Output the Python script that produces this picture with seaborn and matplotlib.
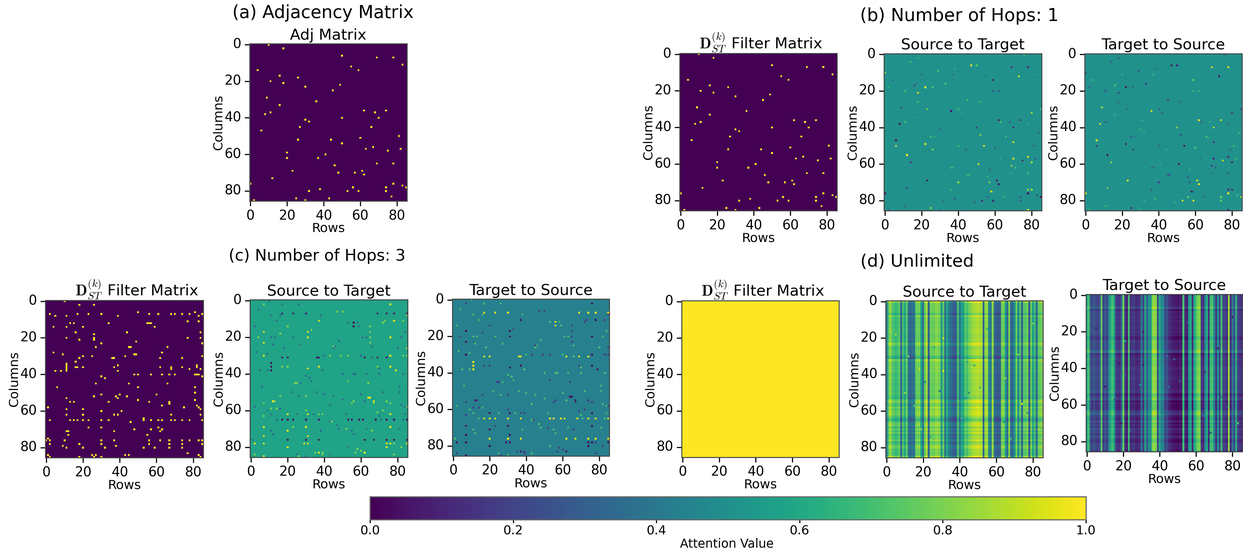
import numpy as np
import pandas as pd
import matplotlib
matplotlib.use("Agg")
import matplotlib.pyplot as plt
import seaborn as sns
from PIL import Image

plt.rcParams['mathtext.fontset'] = 'cm'

n_nodes = 86
tick_labels = [0, 20, 40, 60, 80]
cbar_ticks = [0.0, 0.2, 0.4, 0.6, 0.8, 1.0]

# (a) and (b) : points (row, column)
adj_points = [(10,0),(18,2),(50,6),(69,7),(78,7),(83,11),(55,12),(59,14),(4,14),(16,17),(26,18),(11,20),(18,21),
              (30,23),(49,22),(45,25),(9,29),(36,31),(16,33),(62,36),(68,37),(74,36),(11,37),(8,38),(50,40),(70,40),
              (30,41),(32,42),(27,45),(66,45),(6,47),(81,50),(60,51),(26,52),(44,52),(50,54),(67,56),(63,57),(82,57),
              (75,58),(20,59),(41,60),(20,62),(37,62),(69,65),(78,65),(46,66),(23,69),(61,69),(48,70),(57,70),(62,71),
              (12,73),(0,76),(78,76),(83,77),(56,78),(74,78),(85,78),(38,79),(32,80),(53,80),(59,80),(74,80),(77,83),
              (25,84),(43,84),(2,85),(30,85)]

# (b) : (row, column, value) on a flat background
hop1_base = 0.5
hop1_s2t = [(47,6,1),(50,6,.75),(76,0,.7),(14,4,.65),(18,2,.62),(29,9,.75),(0,10,.8),(38,8,.62),(73,12,.9),(69,7,.1),
            (78,7,.1),(37,11,.35),(20,11,.35),(83,11,.62),(4,14,.4),(55,12,.4),(59,14,.1),(33,16,.75),(16,17,.25),
            (17,16,.35),(2,18,.65),(11,20,.7),(22,18,1),(26,18,.7),(18,21,.95),(59,20,.3),(62,20,.3),(69,23,.6),
            (18,26,.65),(45,25,.7),(52,26,.65),(9,29,.2),(23,30,.8),(40,30,.7),(36,31,.05),(85,30,.7),(80,32,.85),
            (16,33,.4),(42,32,.6),(62,36,.1),(63,37,.7),(74,36,.2),(68,37,.35),(31,36,.35),(11,37,.7),(8,38,.03),
            (78,38,.6),(30,41,.35),(50,40,.2),(70,40,.15),(84,43,.35),(32,42,.4),(52,44,.8),(25,45,.7),(27,45,.65),
            (66,45,.65),(67,46,.4),(6,47,.05),(70,48,.9),(22,49,.95),(6,50,.85),(40,50,.7),(54,50,.95),(81,50,.3),
            (26,52,.8),(44,52,.3),(60,51,.35),(79,52,.6),(12,55,1),(78,56,.95),(70,57,.9),(82,57,.3),(75,58,.1),
            (63,57,.6),(14,59,.2),(80,59,.85),(51,60,.95),(41,60,.4),(69,61,.85),(71,62,.7),(36,62,.65),(37,62,.65),
            (57,63,.3),(78,65,.7),(69,65,.6),(45,66,.65),(46,66,.65),(56,67,.65),(23,69,.05),(61,69,.03),(40,70,.85),
            (57,70,.8),(62,71,.03),(12,73,.2),(36,74,.65),(78,74,.8),(80,74,.85),(58,75,.98),(78,76,.03),(83,77,.2),
            (0,76,.05),(74,78,.3),(85,78,.05),(56,78,.3),(65,78,.65),(38,79,.3),(32,80,.35),(53,80,.1),(59,80,.05),
            (74,80,.3),(49,81,.3),(11,83,.3),(43,84,.4),(25,84,.85),(78,85,.95),(2,85,.3),(30,85,.35),(77,83,.4)]
hop1_t2s = [(14,4,.3),(18,2,.3),(76,0,.3),(47,6,.03),(50,6,.1),(69,7,.95),(78,7,.95),(29,9,.25),(0,10,.25),(38,8,.35),
            (73,12,.05),(20,11,.65),(37,11,.65),(4,14,.65),(59,14,.8),(33,16,.2),(16,17,.75),(17,16,.6),(2,18,.35),
            (11,20,.25),(22,18,.03),(26,18,.3),(18,21,.15),(59,20,.65),(62,20,.65),(69,23,.4),(45,25,.2),(52,26,.35),
            (18,26,.35),(9,29,.85),(23,30,.3),(40,30,.3),(36,31,.92),(85,30,.2),(80,32,.2),(42,32,.3),(16,33,.65),
            (31,36,.65),(62,36,.98),(74,36,.9),(68,37,.65),(63,37,.35),(11,37,.3),(8,38,.95),(78,38,.35),(30,41,.65),
            (50,40,.8),(70,40,.85),(32,42,.65),(84,43,.65),(52,44,.2),(25,45,.3),(27,45,.4),(66,45,.7),(67,46,.6),
            (6,47,.95),(70,48,.15),(22,49,.1),(6,50,.15),(40,50,.3),(54,50,.05),(81,50,.7),(26,52,.2),(44,52,.65),
            (60,51,.7),(79,52,.3),(12,55,.02),(78,56,.1),(70,57,.15),(82,57,.65),(75,58,.92),(63,57,.4),(14,59,.8),
            (80,59,.15),(51,60,.05),(41,60,.6),(69,61,.15),(71,62,.3),(36,62,.35),(37,62,.35),(57,63,.65),(78,65,.3),
            (69,65,.4),(45,66,.3),(46,66,.3),(56,67,.3),(23,69,.95),(61,69,.98),(40,70,.15),(57,70,.2),(62,71,.98),
            (12,73,.8),(36,74,.3),(78,74,.15),(80,74,.15),(58,75,.02),(78,76,.98),(83,77,.7),(0,76,.95),(74,78,.8),
            (85,78,.85),(56,78,.75),(65,78,.35),(38,79,.7),(32,80,.65),(53,80,.9),(59,80,.95),(74,80,.75),(49,81,.65),
            (11,83,.65),(43,84,.6),(25,84,.15),(78,85,.1),(2,85,.65),(30,85,.65),(77,83,.6)]

# (c) filter : column -> rows
hop3_filter = {0:[10],2:[18,26],6:[50,81],7:[2,17,23,30,56,61,68,70,74,78,85],8:[5,11,39,83],11:[77,83],
               12:[13,15,34,55,56,57],14:[4,11,20,59],17:[16,44,84],18:[26],20:[11,26,77,84],21:[18,26],22:[49],
               23:[30,85],25:[27,45,46,66],28:[4,63],29:[9,48,49],30:[20,25,43,85],31:[18,36,37,62,74],33:[16],
               34:[11],35:[11,39,82],36:[11,16,17,20,37,62,68,74,82],37:[11,68,78,84],38:[5,8,11,39],
               40:[48,50,57,63,67,70,81,82,83],41:[30,85],42:[32],45:[27,45,66],47:[6,50,81],50:[81],51:[30,40,60],
               52:[26,38,44],53:[11,39],54:[50,81],55:[13,15,34,56,67],56:[67],57:[82,63],58:[1,75,83],59:[11,20,84],
               60:[30,41],62:[11,20,37,39,68,84],64:[53],65:[2,13,15,17,20,23,30,34,53,57,61,63,68,70,74,78,85],
               66:[46],69:[23,30,61],70:[48,57,63],71:[11,12,37,62],73:[12,55],75:[1],
               76:[0,2,10,30,37,56,62,67,74,78,83,85],78:[2,18,30,56,67,74,85],79:[9,38],80:[11,20,32,53,59,67,74],
               83:[77],84:[1,25,27,43,45,83],85:[2,18,26,30,84]}

# (c) attention, several levels on a flat background
s2t_base = 0.58
t2s_base = 0.43
strong_a = [(7,17),(7,23),(7,30),(31,17),(31,20),(31,37),(37,11),(37,36),(76,20),(76,30),(76,36),(78,11),(79,38),
            (74,78),(76,78),(85,78),(2,78),(7,78),(7,69),(7,74),(7,85),(30,69),(31,74),(29,78),(31,78),(20,62),(31,62),
            (37,83),(62,83),(76,62),(76,2),(64,53),(65,53),(67,55),(12,55),(20,80),(20,71),(76,69),(74,80)]
strong_b = [(17,7),(23,7),(30,7),(69,7),(74,7),(78,7),(85,7),(17,31),(20,31),(36,31),(37,31),(62,31),(69,31),(74,31),
            (17,65),(20,65),(23,65),(30,65),(37,65),(53,65),(55,65),(59,65),(61,65),(68,65),(74,65),(78,65),(85,65),
            (20,76),(30,76),(37,76),(62,76),(67,76),(74,76),(78,76),(85,76),(56,12),(56,14),(11,34),(11,36),(11,38)]
mild_a = [(7,2),(20,14),(20,36),(17,36),(37,62),(39,62),(7,56),(7,63),(13,55),(14,59),(11,59),(24,45),(25,45),(65,17),
          (65,20),(65,23),(65,14),(33,16),(35,83),(39,83),(56,55),(55,56),(67,56),(74,55),(76,56),(83,11),(85,8),
          (82,80),(78,84),(78,78),(58,81),(60,82),(47,6),(50,6),(30,60),(30,52),(39,84),(23,69),(2,84),(85,26),(85,58),
          (85,30),(26,85),(73,11),(72,12),(49,30),(43,30),(53,30),(64,45),(53,44),(45,25),(16,18),(4,20),(44,66),
          (52,70),(66,71),(57,83),(69,61),(72,60),(16,52),(69,36),(83,30)]
weak = [(2,14),(11,20),(14,11),(11,8),(16,8),(5,38),(9,38),(46,25),(45,26),(26,52),(39,38),(62,55),(40,30),(30,41),
        (23,20),(61,20),(63,20),(57,40),(63,40),(50,40),(81,50),(84,58),(84,62),(82,57),(70,37),(66,31),(53,12),
        (48,22),(40,51),(45,52),(60,51),(43,66),(55,71),(1,76),(84,17),(34,62),(71,65),(9,60),(16,59),(13,20),(38,8),
        (4,5),(17,2),(26,2),(10,0),(11,59),(11,62),(11,71),(12,73),(18,26),(27,24),(33,44),(36,50),(43,57),(50,54),
        (56,40),(60,30),(66,25),(70,40),(72,50),(81,47),(83,40),(80,26),(82,20),(58,12),(59,14),(52,62),(47,68),
        (38,71),(25,62),(14,65),(2,58),(3,28),(6,47),(9,29),(12,24),(22,50),(27,45),(32,42),(48,70),(56,73),(63,70),
        (70,63),(81,70),(83,65),(53,80),(43,84),(30,85),(25,84)]

# (d) unlimited : level of each image column, shift of each image row, and a few odd cells
unl_s2t_x = [.4,.7,.82,.72,.68,.65,.68,.72,.28,.68,.55,.72,.38,.3,.38,.33,.72,.76,.76,.55,.33,.76,.85,.3,.76,.76,.75,
             .8,.8,.76,.5,.72,.33,.58,.4,.36,.3,.27,.3,.68,.35,.55,.55,.72,.68,.76,.8,.83,.84,.86,.87,.85,.84,.28,.8,
             .84,.45,.36,.8,.33,.27,.27,.27,.76,.76,.55,.33,.8,.33,.3,.5,.76,.45,.72,.3,.72,.72,.76,.27,.76,.55,.68,
             .33,.72,.76,.76]
unl_t2s_x = [.6,.7,.3,.2,.3,.2,.2,.25,.75,.2,.3,.2,.45,.6,.7,.6,.2,.15,.15,.3,.75,.15,.1,.7,.15,.15,.18,.12,.12,.15,
             .4,.2,.6,.3,.5,.5,.8,.85,.8,.2,.6,.45,.45,.2,.25,.15,.12,.08,.08,.06,.05,.08,.08,.7,.12,.08,.5,.6,.12,.6,
             .7,.8,.8,.15,.15,.45,.6,.12,.7,.7,.45,.15,.5,.2,.7,.2,.2,.15,.85,.15,.4,.25,.65,.2,.15,.15]
unl_s2t_y = [.14,.02,.02,.02,.02,.02,.0,-.06,.08,.0,.02,.0,.0,.02,.0,.02,.02,.02,.0,.0,.0,.02,.0,.1,.06,-.02,.0,.02,
             .02,.02,-.05,-.1,.1,.04,.02,.02,.04,.02,.04,.02,.0,.02,.02,.0,.02,.0,.0,.02,.0,.0,.02,.0,-.02,-.04,.08,
             .1,.02,.0,.1,.04,.07,.08,.08,.02,-.05,-.08,.03,.07,.07,-.03,.07,.0,.07,-.03,.02,.0,.07,-.03,.0,.08,.08,
             .02,.02,.0,.02,.14]
unl_t2s_y = [-.03,.0,.0,.0,.0,.0,.02,.08,-.06,.0,.0,.0,.02,.0,.02,.0,.0,.0,.02,.0,.02,.0,.0,-.06,-.05,.02,.0,.0,.0,
             .0,.05,.1,-.08,-.04,-.02,.0,-.03,-.02,-.03,.0,.02,.0,.0,.0,.0,.02,.02,.0,.0,.0,.0,.0,.02,.04,-.06,-.06,
             .0,.02,-.08,-.04,-.06,-.06,-.06,.0,.05,.08,-.02,-.05,-.05,.03,-.05,.0,-.05,.03,.0,.0,-.05,.03,.0,-.06,
             -.06,.0,.0,.0,.0,-.06]
unl_odd_s2t = [(29,49,.4),(45,50,.45),(43,53,.5),(31,20,.95),(31,38,.95),(74,56,.95),(12,30,.8),(18,37,.9),(21,44,.5),
               (26,25,.55),(44,33,.55),(48,35,.6),(55,15,.65),(65,42,.85),(72,29,.8),(77,61,.55),(83,70,.9),(80,12,.8),
               (15,57,.7),(5,18,.9),(19,70,.8),(41,64,.7),(51,47,.6),(64,66,.55),(24,74,.6),(68,75,.7),(10,50,.85)]
unl_odd_t2s = [(29,49,.45),(45,50,.4),(43,53,.35),(31,20,.05),(31,38,.05),(74,56,.5),(21,25,.6),(18,37,.05),(21,44,.3),
               (26,25,.3),(44,33,.35),(48,35,.3),(55,15,.2),(65,42,.1),(72,29,.1),(77,61,.25),(83,70,.7),(80,12,.05),
               (15,57,.35),(5,18,.05),(19,70,.05),(41,64,.3),(51,47,.3),(64,66,.35),(24,74,.3),(68,75,.25),(10,50,.05)]


def from_points(points, base=0.0, level=1.0):
    m = np.full((n_nodes, n_nodes), base, dtype=float)
    for p in points:
        if len(p) == 3:
            m[p[1], p[0]] = p[2]
        else:
            m[p[1], p[0]] = level
    return m


def from_levels(base, groups):
    m = np.full((n_nodes, n_nodes), base, dtype=float)
    for pts, lev in groups:
        for x, y in pts:
            m[y, x] = lev
    return m


def from_profiles(x_vals, y_vals, odd):
    m = np.clip(np.add.outer(y_vals, x_vals), 0, 1)
    for x, y, v in odd:
        m[y, x] = v
    return pd.DataFrame(m)


hop3_pts = [(x, y) for y, xs in hop3_filter.items() for x in xs]
filter_title = r'$\mathbf{D}_{ST}^{(k)}$ Filter Matrix'

# matrix, title, title centre (fraction of axes), left, top, right, bottom of the image in pixels
panels = [
    (from_points(adj_points), 'Adj Matrix', 0.5, (249.5, 43.7, 407, 201)),
    (from_points(adj_points), filter_title, 0.515, (679.7, 53.3, 837, 210.7)),
    (from_points(hop1_s2t, hop1_base), 'Source to Target', 0.5, (884, 53.5, 1041.7, 210.7)),
    (from_points(hop1_t2s, hop1_base), 'Target to Source', 0.5, (1084.7, 53.5, 1242, 210.7)),
    (from_points(hop3_pts), filter_title, 0.58, (45.3, 300.3, 203.3, 457.7)),
    (from_levels(s2t_base, [(weak, .35), (mild_a, .8), (strong_b, .05), (strong_a, .97)]),
     'Source to Target', 0.5, (250, 299.7, 407.7, 457.3)),
    (from_levels(t2s_base, [(weak, .7), (mild_a, .18), (strong_a, .03), (strong_b, .97)]),
     'Target to Source', 0.5, (452.3, 299, 609.3, 456)),
    (np.ones((n_nodes, n_nodes)), filter_title, 0.515, (681.7, 300.7, 839, 457.3)),
    (from_profiles(unl_s2t_x, unl_s2t_y, unl_odd_s2t), 'Source to Target', 0.5, (885.7, 300.7, 1043, 457.7)),
    (from_profiles(unl_t2s_x, unl_t2s_y, unl_odd_t2s), 'Target to Source', 0.5, (1086, 294.3, 1242.5, 451.7)),
]

W, H = 1243, 550
fig = plt.figure(figsize=(W / 100, H / 100), dpi=100)

for mat, title, title_x, (x0, y0, x1, y1) in panels:
    ax = fig.add_axes([x0 / W, 1 - y1 / H, (x1 - x0) / W, (y1 - y0) / H])
    sns.heatmap(mat, vmin=0, vmax=1, cmap='viridis', cbar=False, ax=ax)
    ax.set_xticks([t + 0.5 for t in tick_labels], tick_labels, rotation=0, fontsize=9.5)
    ax.set_yticks([t + 0.5 for t in tick_labels], tick_labels, rotation=0, fontsize=9.5)
    ax.tick_params(pad=2.5)
    ax.set_xlabel('Rows', fontsize=9.2, labelpad=0)
    ax.set_ylabel('Columns', fontsize=9.2, labelpad=0)
    ax.set_title(title, fontsize=10.9, pad=3, x=title_x)
    for s in ax.spines.values():
        s.set_visible(True)
        s.set_linewidth(0.7)
        s.set_color('#444444')

# colorbar
cax = fig.add_axes([370 / W, 1 - 519.5 / H, 716 / W, 23 / H])
mesh = plt.cm.ScalarMappable(norm=plt.Normalize(0, 1), cmap='viridis')
cb = fig.colorbar(mesh, cax=cax, orientation='horizontal', ticks=cbar_ticks)
cb.ax.tick_params(labelsize=9, length=2.5, pad=1.5)
cb.outline.set_edgecolor('#666666')
fig.text(727 / W, 1 - 544 / H, 'Attention Value', fontsize=8.8, ha='center', va='center')

fig.text(323 / W, 1 - 13 / H, '(a) Adjacency Matrix', fontsize=12.7, ha='center', va='center')
fig.text(959.5 / W, 1 - 16 / H, '(b) Number of Hops: 1', fontsize=12.8, ha='center', va='center')
fig.text(317 / W, 1 - 256 / H, '(c) Number of Hops: 3', fontsize=11.5, ha='center', va='center')
fig.text(917 / W, 1 - 262 / H, '(d) Unlimited', fontsize=12.5, ha='center', va='center')

# drawn large then shrunk, the reference is a scaled down picture too
fig.savefig('big.png', dpi=300)
Image.open('big.png').convert('RGB').resize((W, H), Image.LANCZOS).save('out.png')
